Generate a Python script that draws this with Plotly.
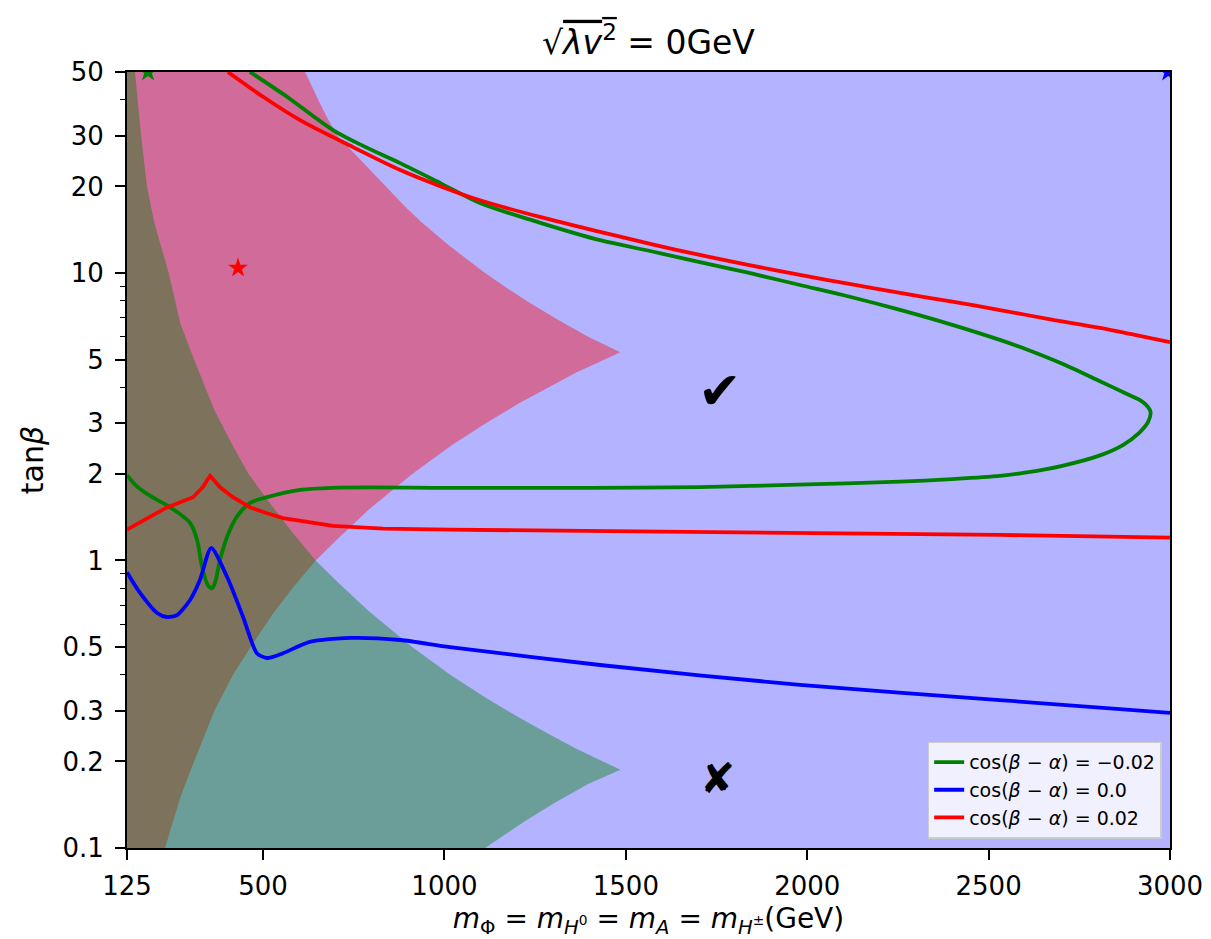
import math
import plotly.graph_objects as go

# ---------------- data ----------------
# excluded region 1 (red shading): outer boundary, from top edge to the tip
pink_outer_tanb = [50, 45, 40, 35, 30, 25, 20, 17, 15, 12.5, 10, 9, 8, 7, 6, 5.3]
pink_outer_mass = [616, 632, 652, 675, 705, 765, 837, 892, 937, 1011, 1112, 1164, 1226, 1302, 1396, 1485]
# excluded region 1: inner boundary, from the tip down to the bottom edge
pink_inner_tanb = [5.3, 4.5, 4, 3.5, 3, 2.5, 2, 1.5, 1.2, 1, 0.8, 0.65, 0.5, 0.4, 0.3, 0.25, 0.2, 0.15, 0.12, 0.1]
pink_inner_mass = [1485, 1362, 1285, 1202, 1114, 1017, 911, 791, 709, 645, 581, 526, 466, 417, 366, 340, 310, 272, 248, 230]

# excluded region 2 (green shading): outer boundary, bottom edge to tip
teal_outer_tanb = [0.1, 0.111, 0.125, 0.143, 0.167, 0.187]
teal_outer_mass = [1112, 1164, 1226, 1302, 1396, 1485]
# excluded region 2: inner boundary, tip up to the top edge
teal_inner_tanb = [0.187, 0.222, 0.25, 0.286, 0.333, 0.4, 0.5, 0.667, 0.833, 1, 1.25, 1.54, 2, 2.5,
                   3.33, 4, 5, 6.67, 10, 15, 20, 30, 50]
teal_inner_mass = [1485, 1362, 1285, 1202, 1114, 1017, 911, 791, 709, 645, 581, 526, 460, 417,
                   366, 340, 310, 272, 240, 200, 180, 164, 147]

# contour lines
green_mass = [125, 150, 188, 244, 299, 318, 332, 348, 359, 368, 381, 401, 428, 464, 511, 602, 693,
              1015, 1400, 1704, 2000, 2256, 2400, 2531, 2600, 2700, 2807, 2870, 2915, 2940,
              2946, 2925, 2880, 2807, 2700, 2600, 2531, 2400, 2256, 2120, 1980, 1840, 1704,
              1570, 1429, 1260, 1098, 990, 878, 780, 693, 566, 464]
green_tanb = [1.98, 1.82, 1.68, 1.53, 1.35, 1.18, 0.95, 0.82, 0.80, 0.84, 1.0, 1.21, 1.42, 1.585,
              1.66, 1.76, 1.79, 1.79, 1.79, 1.80, 1.84, 1.88, 1.92, 1.97, 2.02, 2.13, 2.32, 2.52,
              2.78, 3.04, 3.3, 3.56, 3.8, 4.2, 4.85, 5.45, 5.85, 6.6, 7.44, 8.25, 9.08,
              10.0, 10.9, 11.9, 13.0, 15.0, 17.5, 20.5, 24.1, 27.5, 31.4, 41, 50]

blue_mass = [125, 161, 208, 235, 263, 299, 326, 357, 401, 445, 483, 511, 555, 629, 740, 878,
             1015, 1429, 1980, 2531, 3000]
blue_tanb = [0.91, 0.771, 0.657, 0.636, 0.646, 0.729, 0.855, 1.105, 0.876, 0.636, 0.476, 0.458,
             0.476, 0.521, 0.538, 0.529, 0.500, 0.433, 0.369, 0.327, 0.295]

red_low_mass = [125, 188, 235, 307, 334, 354, 381, 417, 464, 511, 555, 693, 831, 1015, 1704, 2531, 3000]
red_low_tanb = [1.28, 1.42, 1.53, 1.66, 1.80, 1.97, 1.80, 1.66, 1.53, 1.46, 1.405, 1.32, 1.29, 1.28,
                1.256, 1.227, 1.20]
red_up_mass = [403, 500, 602, 748, 878, 990, 1098, 1260, 1429, 1570, 1704, 1840, 1980, 2120, 2256,
               2400, 2531, 2670, 2807, 2900, 3000]
red_up_tanb = [50, 41, 34.0, 27.4, 22.8, 20.0, 17.9, 15.7, 13.9, 12.6, 11.55, 10.65, 9.84, 9.15,
               8.52, 7.95, 7.43, 6.9, 6.44, 6.1, 5.75]

# best points (stars)
star_mass = [183, 2995, 431]
star_tanb = [50, 50, 10.4]
star_colors = ["green", "blue", "red"]

# verdict symbols
mark_text = ["✔", "✘"]
mark_mass = [1760, 1754]
mark_tanb = [3.9, 0.175]
mark_size = [52, 42]

legend_labels = ["cos(<i>β</i> − <i>α</i>) = −0.02",
                 "cos(<i>β</i> − <i>α</i>) = 0.0",
                 "cos(<i>β</i> − <i>α</i>) = 0.02"]

x_ticks = [125, 500, 1000, 1500, 2000, 2500, 3000]
y_ticks = [0.1, 0.2, 0.3, 0.5, 1, 2, 3, 5, 10, 20, 30, 50]
y_ticktext = ["0.1", "0.2", "0.3", "0.5", "1", "2", "3", "5", "10", "20", "30", "50"]
y_minor = [0.4, 0.6, 0.7, 0.8, 0.9, 4, 6, 7, 8, 9, 40]

mass_min, mass_max = 125, 3000
tanb_min, tanb_max = 0.1, 50

# ---------------- figure ----------------
FONT = "DejaVu Sans"
fig = go.Figure()

# red excluded region polygon
px_ = [mass_min, mass_min] + pink_outer_mass + pink_inner_mass[1:]
py_ = [tanb_min, tanb_max] + pink_outer_tanb + pink_inner_tanb[1:]
fig.add_trace(go.Scatter(x=px_, y=py_, fill="toself", mode="lines", line=dict(width=0),
                         fillcolor="rgba(255,0,0,0.4)", showlegend=False, hoverinfo="skip"))
# green excluded region polygon
tx_ = [mass_min, mass_min] + teal_outer_mass + teal_inner_mass[1:]
ty_ = [tanb_max, tanb_min] + teal_outer_tanb + teal_inner_tanb[1:]
fig.add_trace(go.Scatter(x=tx_, y=ty_, fill="toself", mode="lines", line=dict(width=0),
                         fillcolor="rgba(0,128,0,0.4)", showlegend=False, hoverinfo="skip"))

LW = 3.8
fig.add_trace(go.Scatter(x=green_mass, y=green_tanb, mode="lines", name=legend_labels[0],
                         line=dict(color="green", width=LW, shape="spline", smoothing=0.9)))
fig.add_trace(go.Scatter(x=blue_mass, y=blue_tanb, mode="lines", name=legend_labels[1],
                         line=dict(color="blue", width=LW, shape="spline", smoothing=0.7)))
fig.add_trace(go.Scatter(x=red_low_mass, y=red_low_tanb, mode="lines",
                         name=legend_labels[2], legendgroup="red",
                         line=dict(color="red", width=LW)))
fig.add_trace(go.Scatter(x=red_up_mass, y=red_up_tanb, mode="lines", showlegend=False,
                         legendgroup="red",
                         line=dict(color="red", width=LW, shape="spline", smoothing=0.9)))

fig.add_trace(go.Scatter(x=star_mass, y=star_tanb, mode="markers", showlegend=False,
                         cliponaxis=True,
                         marker=dict(symbol="star", size=15, color=star_colors,
                                     line=dict(width=0))))

for t, m, tb, s in zip(mark_text, mark_mass, mark_tanb, mark_size):
    fig.add_annotation(x=m, y=math.log10(tb), xref="x", yref="y", text=t, showarrow=False,
                       font=dict(family=FONT, size=s, color="black"))

fig.update_layout(
    width=1211, height=939,
    margin=dict(l=127, r=41, t=72, b=91, autoexpand=False),
    paper_bgcolor="white",
    plot_bgcolor="rgb(179,179,255)",
    font=dict(family=FONT, size=26, color="black"),
    title=dict(text="√<span style='text-decoration:overline'><i>λv</i><sup>2</sup></span> = 0GeV",
               x=0.5355, xanchor="center", y=0.955, yanchor="middle",
               font=dict(size=33)),
    showlegend=True,
    legend=dict(x=0.992, y=0.012, xanchor="right", yanchor="bottom",
                bgcolor="rgba(255,255,255,0.8)", bordercolor="#cccccc", borderwidth=1.5,
                font=dict(size=19), tracegroupgap=0, itemwidth=30),
)
fig.update_xaxes(range=[mass_min, mass_max], tickvals=x_ticks, ticks="outside", ticklen=10,
                 tickwidth=1.6, tickcolor="black", showline=True, linecolor="black", linewidth=2,
                 mirror=True, showgrid=False, zeroline=False, ticklabelstandoff=4,
                 automargin=False,
                 title=dict(text="<i>m</i><sub>Φ</sub> = <i>m</i><sub><i>H</i><sup>0</sup></sub> = <i>m</i><sub><i>A</i></sub> = <i>m</i><sub><i>H</i><sup>±</sup></sub>(GeV)",
                            standoff=8, font=dict(size=28)))
fig.update_yaxes(type="log", range=[math.log10(tanb_min), math.log10(tanb_max)],
                 tickvals=y_ticks, ticktext=y_ticktext, ticks="outside", ticklen=10,
                 tickwidth=1.6, tickcolor="black", showline=True, linecolor="black", linewidth=2,
                 mirror=True, showgrid=False, zeroline=False, ticklabelstandoff=6,
                 automargin=False,
                 minor=dict(tickvals=y_minor, ticks="outside", ticklen=5, tickwidth=1.2,
                            tickcolor="black", showgrid=False),
                 title=dict(text="tan<i>β</i>", standoff=10, font=dict(size=30)))

fig.write_html("out.html", config={"displayModeBar": False},
               post_script="document.body.style.margin='0';")
